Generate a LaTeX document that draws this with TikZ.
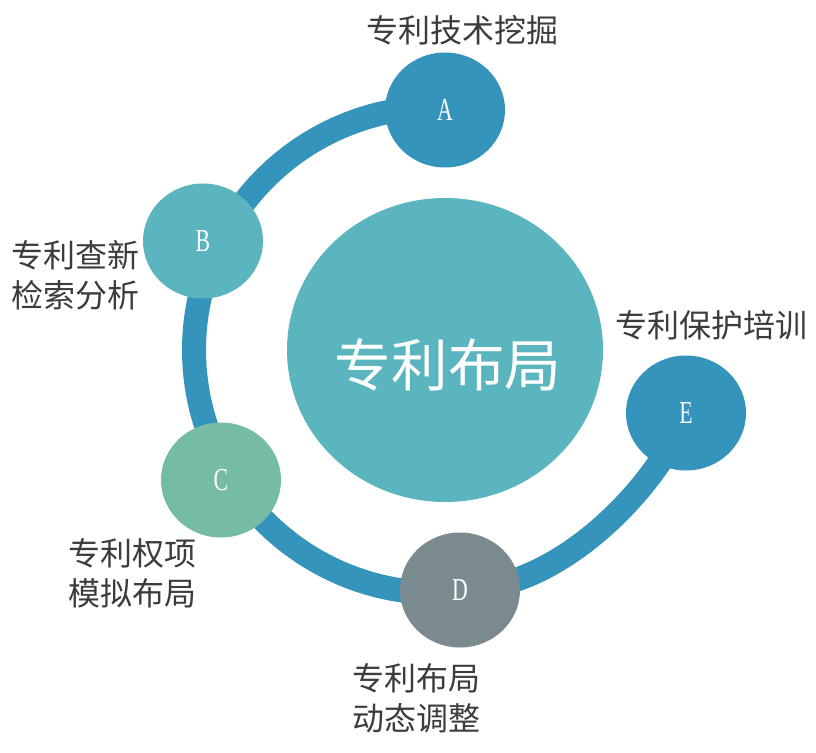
\documentclass[tikz,border=0pt]{standalone}
\usepackage{fontspec}
\newfontfamily\cjk{Noto Sans CJK SC}
\newfontfamily\letterfont[FakeStretch=0.68]{Liberation Serif}
\usetikzlibrary{shapes.geometric}
\definecolor{ringblue}{HTML}{3594BB}
\definecolor{tealc}{HTML}{5AB5BF}
\definecolor{greenc}{HTML}{75BBA5}
\definecolor{grayc}{HTML}{7A8A8E}
\definecolor{labelgray}{HTML}{3C3C3C}
\begin{document}
\begin{tikzpicture}[x=0.75pt,y=-0.75pt,
  dot/.style={ellipse, draw=none, fill=#1, minimum width=90pt, minimum height=86.25pt, inner sep=0pt, text=white, font=\letterfont\fontsize{24}{24}\selectfont},
  lbl/.style={text=labelgray, font=\cjk\fontsize{24}{30}\selectfont, align=center, inner sep=0pt},
  ring/.style={draw=ringblue, line width=18pt}]
\useasboundingbox[fill=white] (0,0) rectangle (816,752);
% ring
\draw[ring] plot[domain=95:290, samples=60, smooth] ({437+243*cos(\x)}, {350-243*sin(\x)})
  .. controls (590.5,552.3) and (659.8,478.9) .. (686,414);
% centre
\node[ellipse, fill=tealc, minimum width=237pt, minimum height=228pt, inner sep=0pt] (core) at (445,350) {};
\node[text=white, font=\cjk\fontsize{42.5}{42.5}\selectfont, inner sep=0pt] (coretext) at (448,365) {专利布局};
% satellites
\node[dot=ringblue] (A) at (445,110) {\raisebox{-3pt}{A}};
\node[dot=tealc]    (B) at (203,241) {\raisebox{-3pt}{B}};
\node[dot=greenc]   (C) at (221,480) {\raisebox{-3pt}{C}};
\node[dot=grayc]    (D) at (460,590) {\raisebox{-3pt}{D}};
\node[dot=ringblue] (E) at (686,413) {\raisebox{-3pt}{E}};
% labels
\node[lbl] (la) at (462,30)  {专利技术挖掘};
\node[lbl] (lb) at (76,275)  {专利查新\\检索分析};
\node[lbl] (le) at (711,325) {专利保护培训};
\node[lbl] (lc) at (132,573) {专利权项\\模拟布局};
\node[lbl] (ld) at (416,698) {专利布局\\动态调整};
\end{tikzpicture}
\end{document}
